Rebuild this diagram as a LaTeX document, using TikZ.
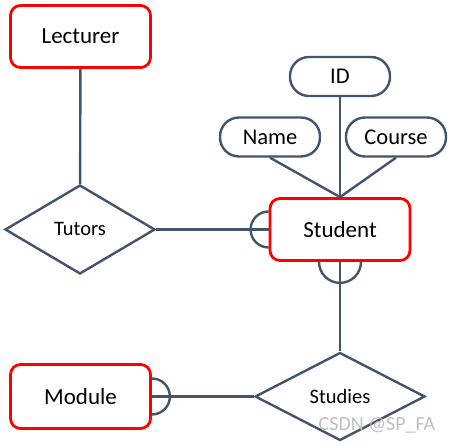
\documentclass[tikz,border=0pt]{standalone}
\usepackage{fontspec}
\setmainfont{Carlito}
\usetikzlibrary{shapes.geometric}
\definecolor{linegray}{HTML}{44546A}
\begin{document}
\begin{tikzpicture}[x=1pt, y=1pt,
      entity/.style={draw=red, line width=2.8pt, rounded corners=10pt, fill=white,
        minimum width=140pt, minimum height=62pt, font=\fontsize{23}{26}\selectfont},
      attrib/.style={draw=linegray, line width=2.4pt, rounded corners=19pt, fill=white,
        minimum width=100pt, minimum height=39pt, font=\fontsize{22.5}{26}\selectfont},
      rel/.style={draw=linegray, line width=2.4pt, diamond, inner sep=0pt, fill=white,
        font=\fontsize{20.5}{24}\selectfont},
      link/.style={draw=linegray, line width=2.4pt}
    ]
    \useasboundingbox (0,0) rectangle (452,446);
    \node[entity] (lecturer) at (80.5,409.5) {Lecturer};
    \node[attrib] (id) at (340,369.5) {ID};
    \node[attrib] (name) at (270,309) {Name};
    \node[attrib] (course) at (396,309) {Course};
    \node[entity] (student) at (340,216.5) {Student};
    \node[rel, minimum width=150pt, minimum height=89pt] (tutors) at (80,216.5) {Tutors};
    \node[entity, minimum height=64pt] (module) at (80.5,49.5) {Module};
    \node[rel, minimum width=170pt, minimum height=88pt] (studies) at (340,49.5) {Studies};
    \draw[link] (lecturer) -- (tutors);
    \draw[link] (tutors) -- (student);
    \draw[link] (student) -- (studies);
    \draw[link] (module) -- (studies);
    \foreach \a in {name,id,course} {
      \draw[link] (\a.south) -- (student.north);
    }
    \draw[link] ([yshift=18pt]student.west) arc[start angle=90, end angle=270, radius=18pt];
    \draw[link] ([xshift=-21pt]student.south) arc[start angle=180, end angle=360, radius=21pt];
    \draw[link] ([yshift=-18pt]module.east) arc[start angle=-90, end angle=90, radius=18pt];
    \node[text=gray!50, font=\fontsize{20}{22}\selectfont] (mark) at (377,21) {CSDN @SP\_FA};
  \end{tikzpicture}
\end{document}
